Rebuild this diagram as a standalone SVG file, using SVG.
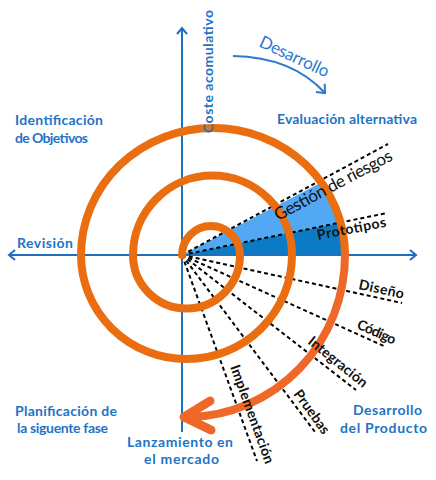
<svg xmlns="http://www.w3.org/2000/svg" width="436" height="480" viewBox="0 0 436 480">
<style>
.lbl{font-family:Lato,"Liberation Sans",sans-serif;font-weight:bold;font-size:14px;fill:#1E73C6}
.blk{font-family:Lato,"Liberation Sans",sans-serif;font-weight:bold;font-size:14px;fill:#111}
.axis{stroke:#1F6FC0;stroke-width:2;fill:none}
.dash{stroke:#000;stroke-width:2;stroke-dasharray:4 3;fill:none}
.spiral{stroke:#EA6D10;stroke-width:8;fill:none;stroke-linecap:round}
</style>
<defs>
<marker id="ah" markerWidth="12" markerHeight="12" refX="7" refY="6" orient="auto" markerUnits="userSpaceOnUse">
<path d="M1,1 L7,6 L1,11" fill="none" stroke="#1F6FC0" stroke-width="2"/>
</marker>
<marker id="ah2" markerWidth="14" markerHeight="14" refX="8" refY="7" orient="auto" markerUnits="userSpaceOnUse">
<path d="M1,1 L8,7 L1,13" fill="none" stroke="#2B7BD0" stroke-width="2"/>
</marker>
</defs>
<g id="wedges">
<path d="M182,255 L321.3,182.5 A132,127 0 0,1 340,222.6 Z" fill="#52A8F2"/>
<path d="M182,255 L340,222.6 A132,127 0 0,1 344.5,255 Z" fill="#0B7BC6"/>
</g>
<g id="connectors">
<line class="axis" x1="182" y1="432" x2="182" y2="28" marker-end="url(#ah)"/>
<line class="axis" x1="182" y1="255" x2="9" y2="255" marker-end="url(#ah)"/>
<line class="axis" x1="182" y1="255" x2="416" y2="255" marker-end="url(#ah)"/>
<line class="dash" x1="182" y1="255" x2="388" y2="144"/>
<line class="dash" x1="182" y1="255" x2="387" y2="213"/>
<line class="dash" x1="182" y1="255" x2="402" y2="303"/>
<line class="dash" x1="182" y1="255" x2="386" y2="347"/>
<line class="dash" x1="182" y1="255" x2="356" y2="390"/>
<line class="dash" x1="182" y1="255" x2="315" y2="432"/>
<line class="dash" x1="182" y1="255" x2="257" y2="461"/>
<path d="M233,56 Q292,57 325,93" fill="none" stroke="#2B7BD0" stroke-width="2" marker-end="url(#ah2)"/>
</g>
<g id="spiral">
<path class="spiral" d="M182,255 A29,29 0 0,1 240,255 A53.5,53.5 0 0,1 133,255 A79.5,79.5 0 0,1 292,255 A105.5,104 0 0,1 81,255 A132,127 0 0,1 345,255"/>
<path d="M345,255 A159,162 0 0,1 190,417 L186,417" fill="none" stroke="#F0672A" stroke-width="8" stroke-linecap="round"/>
<path d="M210,401 L184,417 L211,430" fill="none" stroke="#F0672A" stroke-width="9" stroke-linecap="round" stroke-linejoin="round"/>
</g>
<g id="labels-blue">
<text class="lbl" transform="translate(213,133) rotate(-90)" textLength="123">Coste acomulativo</text>
<text transform="translate(258,46) rotate(25)" font-family="Lato,'Liberation Sans',sans-serif" font-size="17" fill="#2B7BD0" textLength="75">Desarrollo</text>
<text class="lbl" x="15" y="125" textLength="88">Identificación</text>
<text class="lbl" x="15" y="143" textLength="73">de Objetivos</text>
<text class="lbl" x="277" y="124" textLength="140">Evaluación alternativa</text>
<text class="lbl" x="17" y="248" textLength="56">Revisión</text>
<text class="lbl" x="15" y="416" textLength="102">Planificación de</text>
<text class="lbl" x="17" y="433" textLength="91">la siguente fase</text>
<text class="lbl" x="127" y="447" textLength="106">Lanzamiento en</text>
<text class="lbl" x="144" y="464" textLength="75">el mercado</text>
<text class="lbl" x="353" y="415" textLength="69">Desarrollo</text>
<text class="lbl" x="340" y="433" textLength="87">del Producto</text>
</g>
<g id="labels-black">
<text transform="translate(278,221) rotate(-28)" font-family="Lato,'Liberation Sans',sans-serif" font-size="17" fill="#111" textLength="131">Gestión de riesgos</text>
<text class="blk" transform="translate(318,240) rotate(-11)" textLength="70">Prototipos</text>
<text class="blk" transform="translate(358,289) rotate(12)" textLength="46">Diseño</text>
<text class="blk" transform="translate(356,328) rotate(24)" textLength="41">Código</text>
<text class="blk" transform="translate(307,343) rotate(39)" textLength="72">Integración</text>
<text class="blk" transform="translate(293,394) rotate(54)" textLength="51">Pruebas</text>
<text class="blk" transform="translate(230,367) rotate(70)" textLength="104">Implementación</text>
</g>
</svg>
